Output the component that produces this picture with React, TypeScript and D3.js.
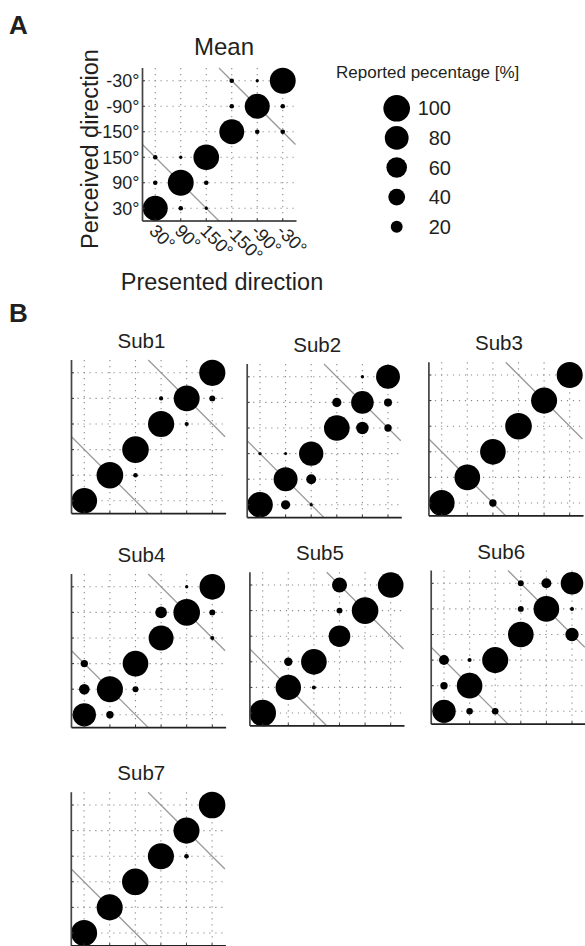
import * as d3 from 'd3'

const DIRS = ['30°', '90°', '150°', '-150°', '-90°', '-30°']
const LEGEND_VALUES = [100, 80, 60, 40, 20]

// rows = perceived direction (30° bottom ... -30° top), cols = presented direction
const meanData = [
  [88, 3, 1.5, 0, 0, 0],
  [3, 95, 3, 0, 0, 0],
  [3, 1.5, 93, 0, 0, 0],
  [0, 0, 0, 88, 3, 3],
  [0, 0, 0, 3, 88, 3],
  [0, 0, 0, 3, 1.5, 95],
]
const sub1 = [
  [93, 0, 0, 0, 0, 0],
  [0, 100, 3, 0, 0, 0],
  [0, 0, 100, 0, 0, 0],
  [0, 0, 0, 97, 2.5, 0],
  [0, 0, 0, 2.5, 95, 5],
  [0, 0, 0, 0, 0, 97],
]
const sub2 = [
  [93, 12, 1.6, 0, 0, 0],
  [0, 81, 14, 0, 0, 0],
  [1.6, 1.3, 84, 0, 0, 0],
  [0, 0, 0, 93, 22, 7.7],
  [0, 0, 0, 12, 72, 9],
  [0, 0, 0, 0, 1.6, 81],
]
const sub3 = [
  [95, 0, 7.7, 0, 0, 0],
  [0, 93, 0, 0, 0, 0],
  [0, 0, 93, 0, 0, 0],
  [0, 0, 0, 100, 0, 0],
  [0, 0, 0, 0, 96, 0],
  [0, 0, 0, 0, 0, 96],
]
const sub4 = [
  [77, 7.7, 0, 0, 0, 0],
  [16, 96, 5, 0, 0, 0],
  [7.7, 0, 93, 0, 0, 0],
  [0, 0, 0, 88, 0, 2.3],
  [0, 0, 0, 19, 100, 5],
  [0, 0, 0, 0, 1.6, 93],
]
const sub5 = [
  [100, 0, 0, 0, 0, 0],
  [0, 91, 2.3, 0, 0, 0],
  [0, 10, 93, 0, 0, 0],
  [0, 0, 0, 66, 0, 0],
  [0, 0, 0, 5, 100, 0],
  [0, 0, 0, 32, 0, 93],
]
const sub6 = [
  [77, 6, 6, 0, 0, 0],
  [7.7, 93, 0, 0, 0, 0],
  [14, 2.3, 96, 0, 0, 0],
  [0, 0, 0, 93, 0, 25],
  [0, 0, 0, 5, 93, 2.3],
  [0, 0, 0, 5, 14, 72],
]
const sub7 = [
  [96, 0, 0, 0, 0, 0],
  [0, 96, 0, 0, 0, 0],
  [0, 0, 100, 0, 0, 0],
  [0, 0, 0, 96, 3, 0],
  [0, 0, 0, 0, 96, 0],
  [0, 0, 0, 0, 0, 100],
]

// opposite-direction reference lines, in index units
const REF_LINES: [number, number][][] = [
  [[-0.5, 2.5], [2.5, -0.5]],
  [[2.5, 5.5], [5.5, 2.5]],
]

const FONT = '"Liberation Sans", Arial, Helvetica, sans-serif'
const INK = '#231f20'

const rScale = d3.scaleSqrt().domain([0, 100]).range([0, 13.3])

// panel placement: x0/y0 = top-left of plot box
const subPanels = [
  { title: 'Sub1', data: sub1, x0: 71.5, y0: 360 },
  { title: 'Sub2', data: sub2, x0: 247.2, y0: 364 },
  { title: 'Sub3', data: sub3, x0: 428.9, y0: 362.2 },
  { title: 'Sub4', data: sub4, x0: 71.5, y0: 574 },
  { title: 'Sub5', data: sub5, x0: 249.9, y0: 572.2 },
  { title: 'Sub6', data: sub6, x0: 431.2, y0: 570.5 },
  { title: 'Sub7', data: sub7, x0: 71.3, y0: 792.2 },
]

function Panel({ data, x0, y0, size, children }: any) {
  const x = d3.scaleLinear().domain([-0.5, 5.5]).range([x0, x0 + size])
  const y = d3.scaleLinear().domain([-0.5, 5.5]).range([y0 + size, y0])
  const idx = d3.range(6)
  const line = d3.line<[number, number]>().x(d => x(d[0])).y(d => y(d[1]))
  const dots = data.flatMap((row: number[], j: number) =>
    row.map((v, i) => ({ i, j, v }))).filter((d: any) => d.v > 0)

  return (
    <g>
      {idx.map(i => (
        <line key={'gv' + i} x1={x(i)} x2={x(i)} y1={y0} y2={y0 + size}
          stroke="#8a8a8a" strokeWidth={1.1} strokeDasharray="1.2,4.8" />
      ))}
      {idx.map(j => (
        <line key={'gh' + j} x1={x0} x2={x0 + size} y1={y(j)} y2={y(j)}
          stroke="#8a8a8a" strokeWidth={1.1} strokeDasharray="1.2,4.8" />
      ))}
      {REF_LINES.map((l, k) => (
        <path key={'r' + k} d={line(l) || ''} stroke="#9a9a9a" strokeWidth={1.3} fill="none" />
      ))}
      {dots.map((d: any, k: number) => (
        <circle key={'c' + k} cx={x(d.i)} cy={y(d.j)} r={rScale(d.v)} fill="#000" />
      ))}
      {idx.map(i => (
        <line key={'tx' + i} x1={x(i)} x2={x(i)} y1={y0 + size} y2={y0 + size - 2.5} stroke="#333" strokeWidth={1} />
      ))}
      {idx.map(j => (
        <line key={'ty' + j} x1={x0} x2={x0 + 2.5} y1={y(j)} y2={y(j)} stroke="#333" strokeWidth={1} />
      ))}
      <line x1={x0} x2={x0} y1={y0} y2={y0 + size} stroke="#444" strokeWidth={1.7} />
      <line x1={x0} x2={x0 + size + 1} y1={y0 + size} y2={y0 + size} stroke="#222" strokeWidth={1.7} />
      {children && children(x, y)}
    </g>
  )
}

export default function App() {
  const A = { x0: 142.5, y0: 68, size: 153 }
  const legendY = d3.scaleLinear().domain([0, 4]).range([108.3, 226.7])

  return (
    <div style={{ position: 'absolute', left: 0, top: 0 }}>
      <svg width={585} height={946} style={{ display: 'block', background: '#fff' }}
        fontFamily={FONT}>
        <text x={9} y={34} fontSize={26} fontWeight="bold" fill={INK}>A</text>
        <text x={9} y={322} fontSize={26} fontWeight="bold" fill={INK}>B</text>

        <text x={224} y={55} fontSize={24} textAnchor="middle" fill={INK}>Mean</text>
        <Panel data={meanData} {...A}>
          {(x: any, y: any) => (
            <g fontSize={18} fill={INK}>
              {DIRS.map((t, j) => (
                <text key={'yl' + j} x={A.x0 - 3} y={y(j)} dy="0.35em" textAnchor="end">{t}</text>
              ))}
              {DIRS.map((t, i) => (
                <text key={'xl' + i} textAnchor="start"
                  transform={`translate(${x(i) - 7},${A.y0 + A.size + 11}) rotate(45)`}>{t}</text>
              ))}
            </g>
          )}
        </Panel>
        <text transform="translate(98,149) rotate(-90)" fontSize={23.5} textAnchor="middle" fill={INK}>Perceived direction</text>
        <text x={222} y={290} fontSize={23.5} textAnchor="middle" fill={INK}>Presented direction</text>

        <text x={336} y={78} fontSize={17} fill={INK}>Reported pecentage [%]</text>
        {LEGEND_VALUES.map((v, k) => (
          <g key={'lg' + v}>
            <circle cx={396.7} cy={legendY(k)} r={rScale(v)} fill="#000" />
            <text x={451} y={legendY(k)} dy="0.35em" textAnchor="end" fontSize={20} fill={INK}>{v}</text>
          </g>
        ))}

        {subPanels.map(p => (
          <g key={p.title}>
            <text x={p.x0 + 70} y={p.y0 - 12} fontSize={20.5} textAnchor="middle" fill={INK}>{p.title}</text>
            <Panel data={p.data} x0={p.x0} y0={p.y0} size={153.6} />
          </g>
        ))}
      </svg>
    </div>
  )
}
